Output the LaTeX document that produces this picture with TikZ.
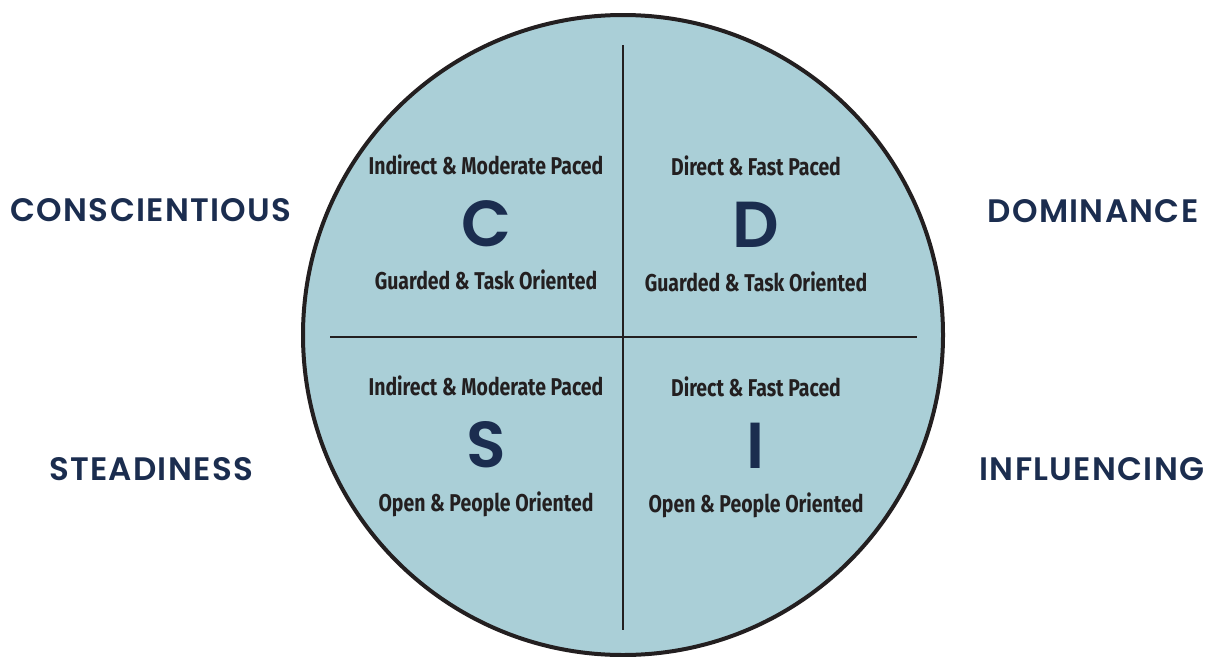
\documentclass[tikz,border=0pt]{standalone}
\usepackage{fontspec}
\newfontfamily\labfont[LetterSpace=4]{Poppins SemiBold}
\newfontfamily\bigfont{Poppins SemiBold}
\newfontfamily\smallfont[FakeStretch=0.8]{Fira Sans Bold}
\definecolor{discfill}{HTML}{AACFD7}
\definecolor{navy}{HTML}{1B2D4F}
\definecolor{ink}{HTML}{231F20}
\begin{document}
\begin{tikzpicture}[x=1pt,y=-1pt,
  lab/.style={anchor=base,text=navy,font=\labfont\fontsize{32.5}{35}\selectfont,inner sep=0pt},
  big/.style={anchor=base,text=navy,font=\bigfont\fontsize{65}{70}\selectfont,inner sep=0pt},
  small/.style={anchor=base,text=ink,font=\smallfont\fontsize{24.3}{26}\selectfont,inner sep=0pt},
  divider/.style={draw=ink,line width=2.2pt}]
\useasboundingbox (0,0) rectangle (1214,656);
\node[circle,draw=ink,fill=discfill,line width=4pt,minimum size=640pt,inner sep=0pt] (disc) at (623,335) {};
\coordinate (vt) at (623,45);
\coordinate (vb) at (623,630);
\coordinate (hl) at (330,337);
\coordinate (hr) at (917,337);
\draw[divider] (vt) -- (vb);
\draw[divider] (hl) -- (hr);
% labels
\node[lab] (lc) at (151,221) {CONSCIENTIOUS};
\node[lab] (ld) at (1093,222) {DOMINANCE};
\node[lab] (ls) at (151,480) {STEADINESS};
\node[lab] (li) at (1092,480) {INFLUENCING};
% C quadrant
\node[small] (c1) at (486,174) {Indirect \& Moderate Paced};
\node[big] (cc) at (486,246) {C};
\node[small] (c2) at (486,289) {Guarded \& Task Oriented};
% D quadrant
\node[small] (d1) at (756,175) {Direct \& Fast Paced};
\node[big] (dd) at (756,247) {D};
\node[small] (d2) at (756,291) {Guarded \& Task Oriented};
% S quadrant
\node[small] (s1) at (486,395) {Indirect \& Moderate Paced};
\node[big] (ss) at (486,467) {S};
\node[small] (s2) at (486,511) {Open \& People Oriented};
% I quadrant
\node[small] (i1) at (756,396) {Direct \& Fast Paced};
\node[big] (ii) at (756,468) {I};
\node[small] (i2) at (756,512) {Open \& People Oriented};
\end{tikzpicture}
\end{document}
